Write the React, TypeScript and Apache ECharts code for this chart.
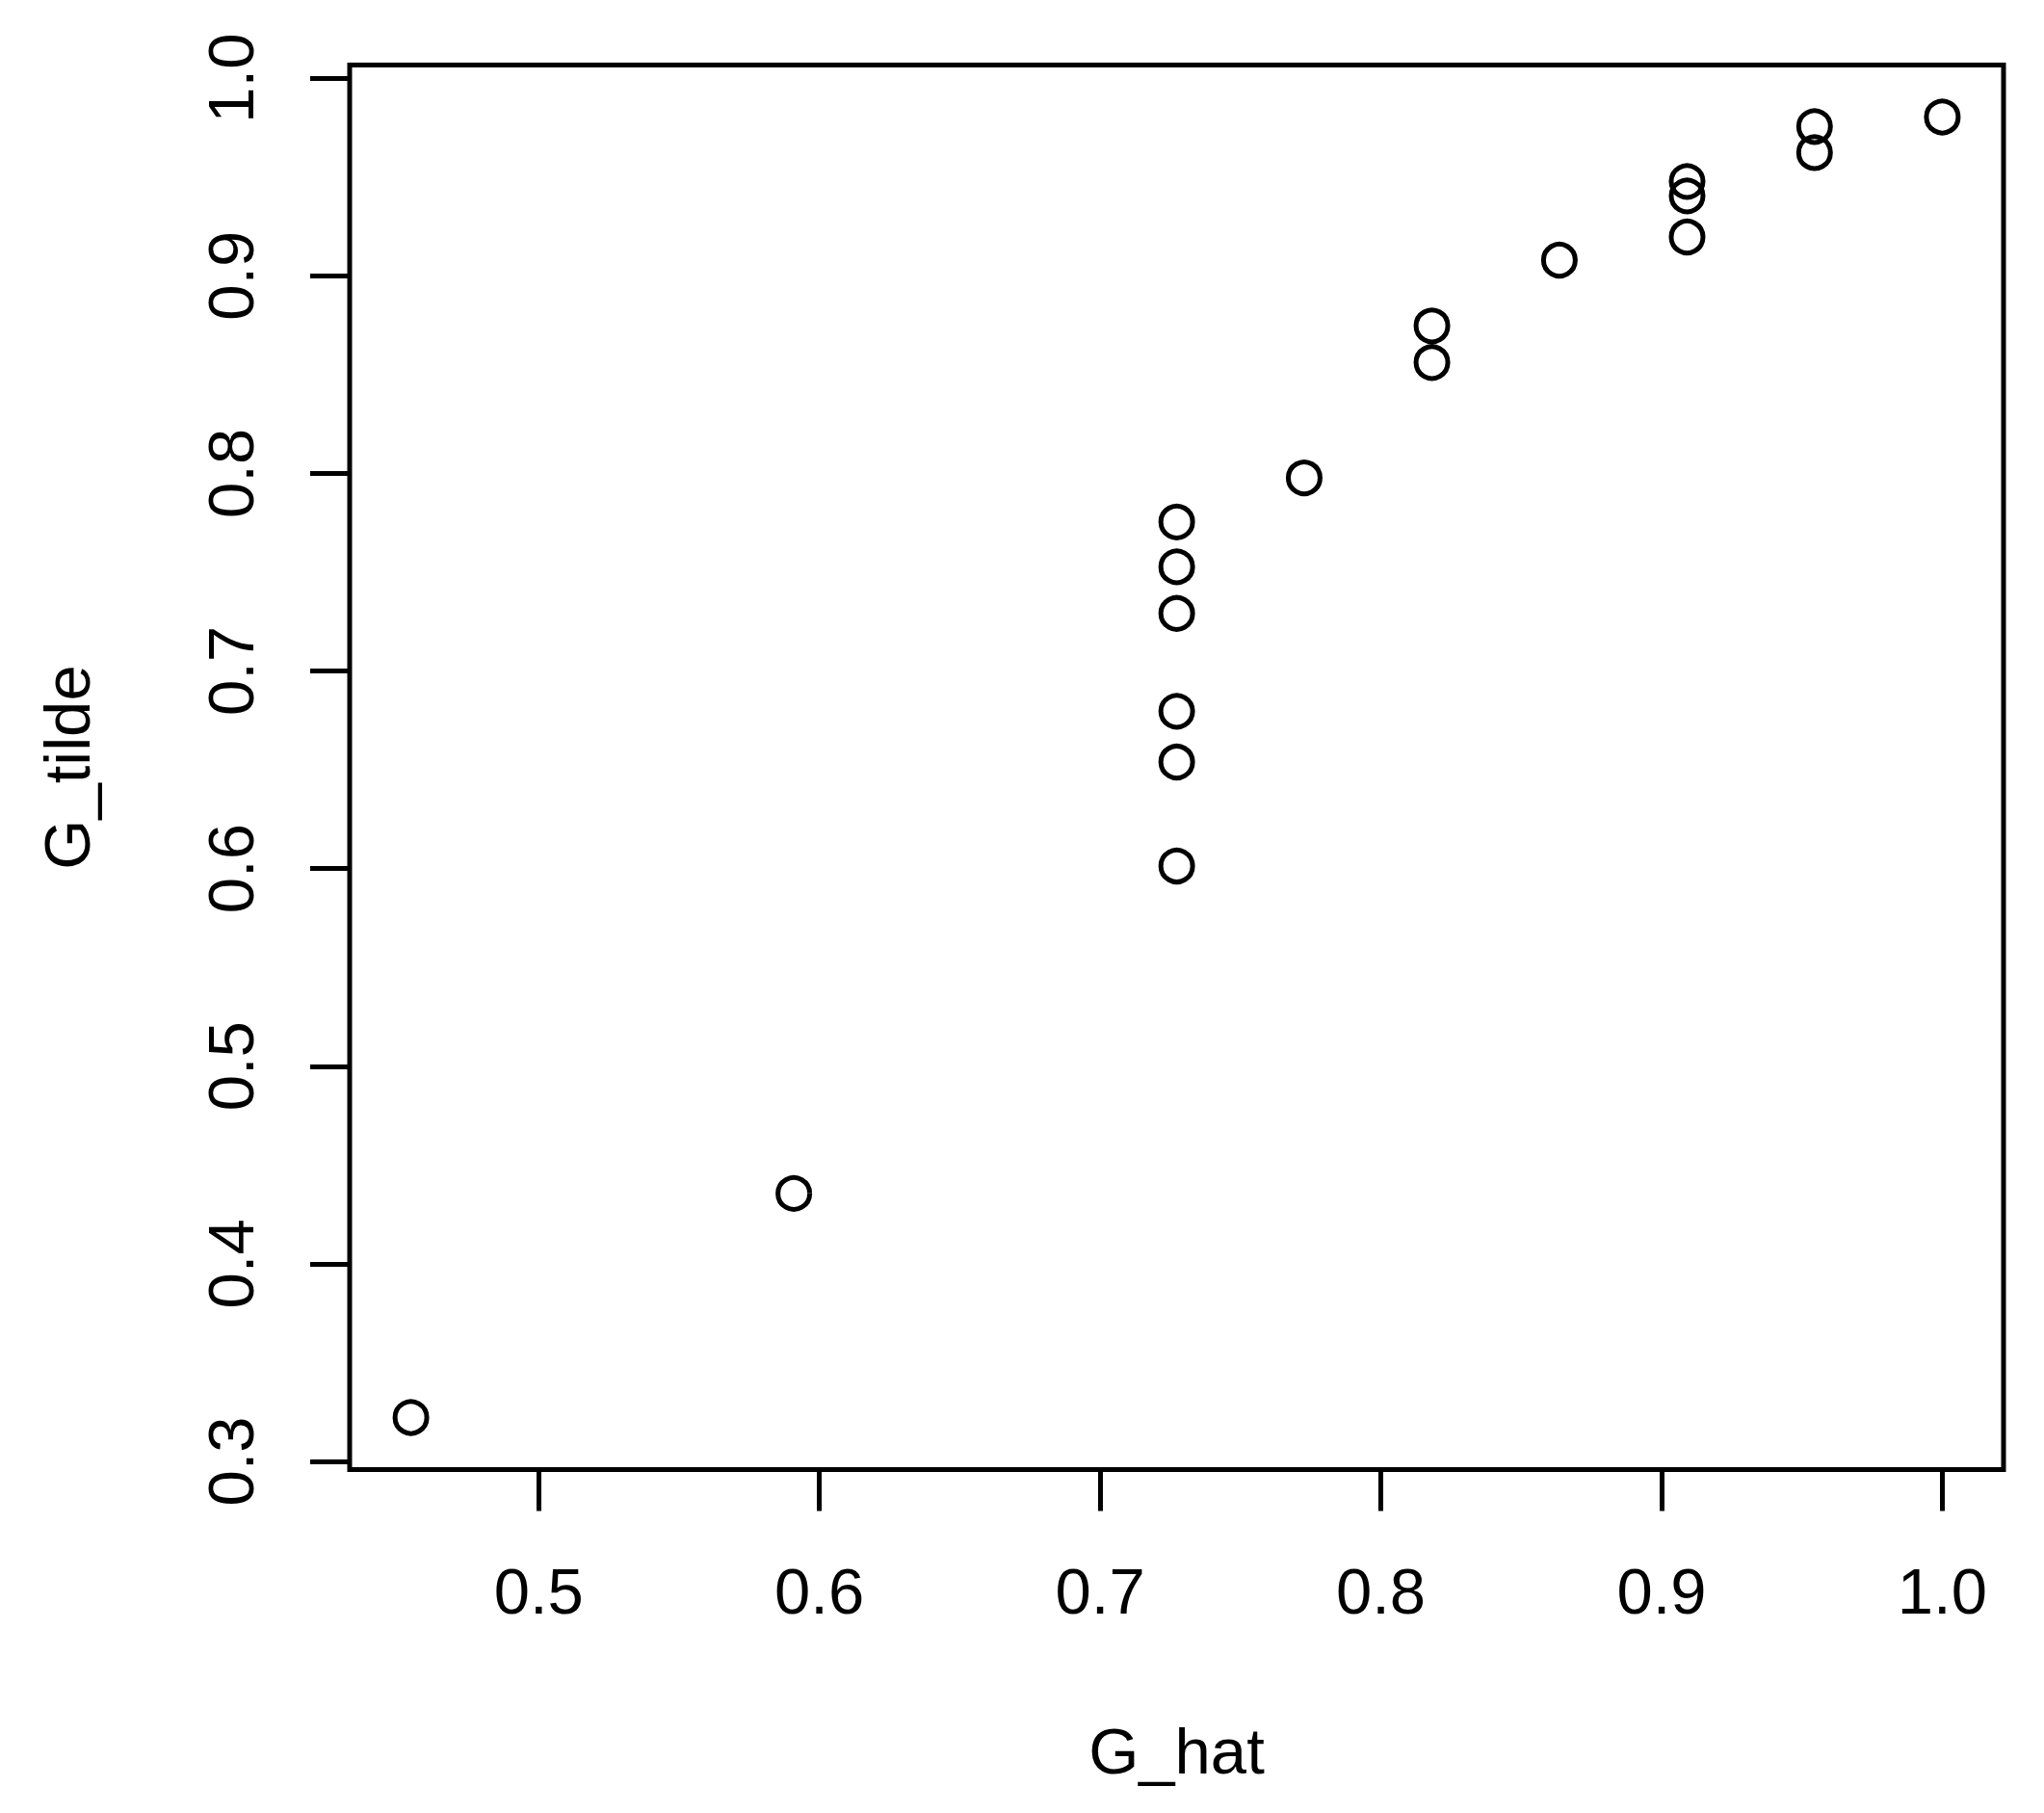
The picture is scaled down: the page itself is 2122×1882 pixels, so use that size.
import React, { useEffect, useRef } from "react";
import * as echarts from "echarts";

const gHat = [0.4545, 0.5909, 0.7273, 0.7273, 0.7273, 0.7273, 0.7273, 0.7273, 0.7727, 0.8182, 0.8182, 0.8636, 0.9091, 0.9091, 0.9091, 0.9545, 0.9545, 1.0];
const gTilde = [0.3222, 0.4356, 0.6013, 0.6539, 0.6796, 0.7291, 0.7527, 0.7754, 0.7977, 0.8561, 0.8746, 0.9079, 0.9196, 0.9404, 0.9477, 0.9623, 0.9755, 0.9803];
const xTicks = [0.5, 0.6, 0.7, 0.8, 0.9, 1.0];
const yTicks = [0.3, 0.4, 0.5, 0.6, 0.7, 0.8, 0.9, 1.0];
const xName = "G_hat";
const yName = "G_tilde";

const FONT = "'Liberation Sans', Arial, Helvetica, sans-serif";

function paddedRange(vals: number[]) {
  const lo = Math.min(...vals);
  const hi = Math.max(...vals);
  const pad = (hi - lo) * 0.04;
  return [lo - pad, hi + pad];
}

export default function App() {
  const ref = useRef<HTMLDivElement>(null);
  useEffect(() => {
    if (!ref.current) return;
    const chart = echarts.init(ref.current, null, { renderer: "svg" });
    const [xMin, xMax] = paddedRange(gHat);
    const [yMin, yMax] = paddedRange(gTilde);
    const data = gHat.map((x, i) => [x, gTilde[i]]);
    chart.setOption({
      animation: false,
      backgroundColor: "#ffffff",
      grid: {
        left: 363,
        right: 42,
        top: 67.5,
        bottom: 356.5,
        show: true,
        borderColor: "#000",
        borderWidth: 5,
        backgroundColor: "transparent",
      },
      xAxis: {
        type: "value",
        min: xMin,
        max: xMax,
        name: xName,
        nameLocation: "middle",
        nameGap: 258,
        nameTextStyle: { fontSize: 67, fontFamily: FONT, color: "#000" },
        axisLine: { show: false },
        splitLine: { show: false },
        axisTick: {
          show: true,
          inside: false,
          length: 43,
          lineStyle: { color: "#000", width: 5 },
          customValues: xTicks,
        },
        axisLabel: {
          customValues: xTicks,
          formatter: (v: number) => v.toFixed(1),
          fontSize: 67,
          fontFamily: FONT,
          color: "#000",
          margin: 92,
        },
      },
      yAxis: {
        type: "value",
        min: yMin,
        max: yMax,
        name: yName,
        nameLocation: "middle",
        nameGap: 260,
        nameRotate: 90,
        nameTextStyle: { fontSize: 67, fontFamily: FONT, color: "#000" },
        axisLine: { show: false },
        splitLine: { show: false },
        axisTick: {
          show: true,
          inside: false,
          length: 41,
          lineStyle: { color: "#000", width: 5 },
          customValues: yTicks,
        },
        axisLabel: {
          customValues: yTicks,
          formatter: (v: number) => v.toFixed(1),
          fontSize: 67,
          fontFamily: FONT,
          color: "#000",
          rotate: 90,
          margin: 90,
        },
      },
      series: [
        {
          type: "scatter",
          data,
          symbol: "circle",
          symbolSize: 33,
          itemStyle: { color: "transparent", borderColor: "#000", borderWidth: 5, opacity: 1 },
          emphasis: { disabled: true },
        },
      ],
    });
    return () => chart.dispose();
  }, []);
  return (
    <div
      ref={ref}
      style={{ position: "fixed", left: 0, top: 0, width: 2122, height: 1882, background: "#fff" }}
    />
  );
}
